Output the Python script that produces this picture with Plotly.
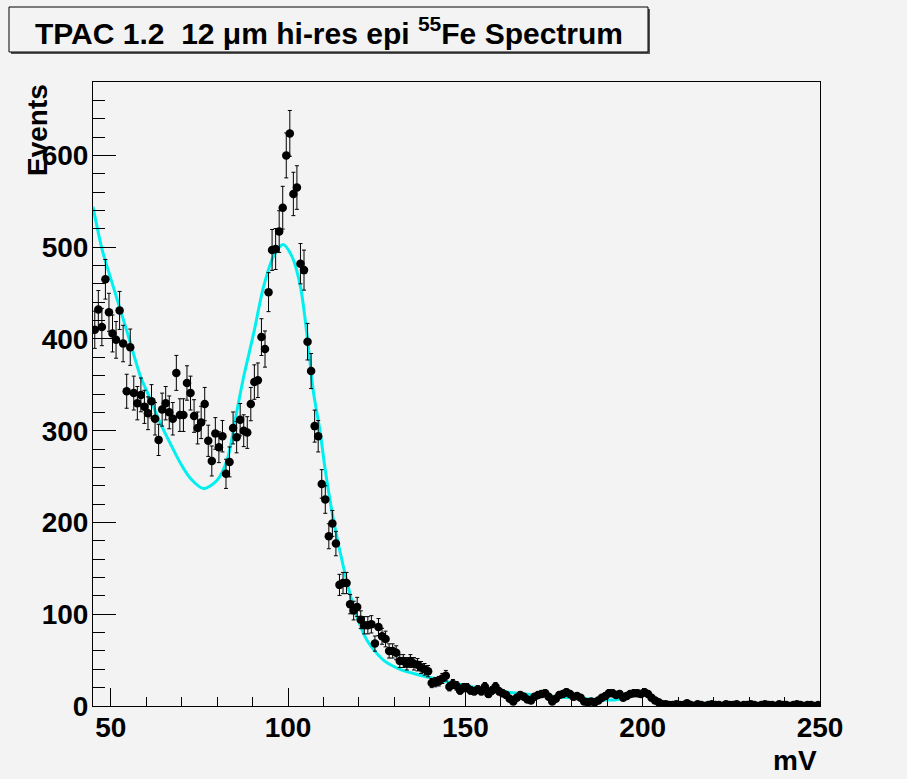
import numpy as np
import plotly.graph_objects as go

# ---------------- data ----------------
bin_low = 45.0
bin_width = 1.0
counts = [
    410, 432, 413, 465, 429, 406, 399, 431, 395, 343,   # 45-54
    391, 341, 330, 339, 326, 319, 332, 313, 290, 323,   # 55-64
    330, 320, 313, 363, 317, 317, 352, 341, 316, 303,   # 65-74
    309, 329, 289, 267, 297, 282, 294, 253, 266, 303,   # 75-84
    293, 312, 300, 298, 329, 353, 355, 402, 389, 451,   # 85-94
    497, 498, 517, 543, 600, 624, 558, 565, 482, 475,   # 95-104
    397, 365, 305, 294, 242, 225, 185, 199, 177, 132,   # 105-114
    134, 134, 111, 104, 108, 94, 88, 88, 89, 68,        # 115-124
    86, 76, 73, 60, 60, 58, 49, 49, 46, 49,             # 125-134
    46, 45, 42, 40, 38, 25, 26, 27, 30, 33,             # 135-144
    21, 24, 22, 17, 20, 20, 17, 16, 18, 16,             # 145-154
    21, 13, 17, 21, 16, 14, 12, 8, 5, 9,                # 155-164
    12, 10, 7, 6, 10, 12, 13, 14, 10, 5,                # 165-174
    8, 12, 13, 15, 13, 10, 11, 9, 5, 4,                 # 175-184
    5, 4, 6, 9, 11, 14, 14, 12, 13, 9,                  # 185-194
    11, 13, 14, 14, 13, 15, 13, 9, 6, 4,                # 195-204
    2, 2, 1, 1, 2, 1, 1, 3, 1, 0,                       # 205-214
    2, 1, 0, 1, 2, 1, 1, 0, 2, 1,                       # 215-224
    1, 2, 0, 1, 1, 2, 1, 0, 1, 2,                       # 225-234
    1, 1, 0, 2, 1, 1, 0, 1, 2, 1,                       # 235-244
    0, 1, 1, 0, 1,                                      # 245-249
]
bin_centers = [bin_low + bin_width * (i + 0.5) for i in range(len(counts))]
errors = [float(np.sqrt(c)) for c in counts]

# fitted curve
fit_x = [45, 47.6, 50, 52.7, 55.6, 58.4, 61.2, 64.0, 66.8, 69.6, 72.5, 76.2,
         80, 82.8, 85.6, 87.5, 90.3, 93.1, 95.9, 98.6, 101.1, 103.5, 105.3,
         107.2, 109, 110.5, 112.8, 115.6, 118.5, 122.2, 126.9, 131.6, 141,
         150.4, 159.8, 173, 182.3, 191.7, 195.5, 199.6, 202, 204.8, 210.5,
         220, 250]
fit_y = [544, 497, 466, 432, 395, 359, 334, 308, 286, 265, 248, 237,
         246, 268, 322, 359, 406, 457, 490, 503, 490, 457, 406,
         341, 300, 257, 203, 152, 108, 72, 50, 40, 30,
         22, 16, 11, 8.4, 6.5, 9.5, 12.7, 9.5, 4.7, 3.6,
         3, 2.5]

x_ticks = [50, 100, 150, 200, 250]
y_ticks = [0, 100, 200, 300, 400, 500, 600]
x_range = [45, 250]
y_range = [0, 680]

title_html = "TPAC 1.2  12 μm hi-res epi <sup>55</sup>Fe Spectrum"

# ---------------- layout geometry (pixels) ----------------
W, H = 907, 779
L, R, T, B = 93, 87, 82, 73
BG = "#f3f3f3"
FONT = "Liberation Sans"


def pxx(px):
    return (px - L) / (W - L - R)


def pxy(py):
    return (H - B - py) / (H - T - B)


fig = go.Figure()

fig.add_trace(go.Scatter(
    x=fit_x, y=fit_y, mode="lines",
    line=dict(color="#00f0f0", width=3, shape="spline", smoothing=0.8),
    hoverinfo="skip", showlegend=False,
))

fig.add_trace(go.Scatter(
    x=bin_centers, y=counts, mode="markers",
    marker=dict(color="black", size=8.5, symbol="circle"),
    error_y=dict(type="data", array=errors, visible=True,
                 color="black", thickness=1, width=2),
    showlegend=False,
))

axis_common = dict(
    showgrid=False, zeroline=False,
    showline=True, linecolor="black", linewidth=1, mirror=True,
    ticks="inside", tickcolor="black", tickwidth=1,
    tickfont=dict(family=FONT, size=28, color="black", weight="bold"),
)

fig.update_xaxes(
    range=x_range, tickvals=x_ticks, ticklen=18,
    minor=dict(dtick=10, tick0=0, ticklen=9, ticks="inside", tickcolor="black"),
    ticklabelstandoff=-4,
    **axis_common,
)
fig.update_yaxes(
    range=y_range, tickvals=y_ticks, ticklen=23,
    minor=dict(dtick=20, tick0=0, ticklen=12, ticks="inside", tickcolor="black"),
    ticklabelstandoff=-2,
    **axis_common,
)

shapes = [
    # shadow of title box
    dict(type="rect", xref="paper", yref="paper",
         x0=pxx(11), x1=pxx(650), y0=pxy(9), y1=pxy(54),
         fillcolor="#555555", line=dict(width=0), layer="above"),
    dict(type="rect", xref="paper", yref="paper",
         x0=pxx(9), x1=pxx(648), y0=pxy(7), y1=pxy(52),
         fillcolor=BG, line=dict(color="black", width=1), layer="above"),
]

annotations = [
    dict(text=title_html, xref="paper", yref="paper",
         x=pxx(329), y=pxy(31), xanchor="center", yanchor="middle",
         showarrow=False,
         font=dict(family=FONT, size=30, color="black", weight="bold")),
    dict(text="Events", xref="paper", yref="paper",
         x=pxx(37), y=pxy(82), xanchor="center", yanchor="top",
         textangle=-90, showarrow=False,
         font=dict(family=FONT, size=28, color="black", weight="bold")),
    dict(text="mV", xref="paper", yref="paper",
         x=pxx(819), y=pxy(760), xanchor="right", yanchor="middle",
         showarrow=False,
         font=dict(family=FONT, size=28, color="black", weight="bold")),
]

fig.update_layout(
    width=W, height=H,
    margin=dict(l=L, r=R, t=T, b=B, pad=0),
    paper_bgcolor=BG, plot_bgcolor=BG,
    shapes=shapes, annotations=annotations,
    showlegend=False,
)

fig.write_html(
    "out.html",
    config={"displayModeBar": False},
    post_script="document.body.style.margin='0px';"
                "document.body.style.background='#f3f3f3';",
)
